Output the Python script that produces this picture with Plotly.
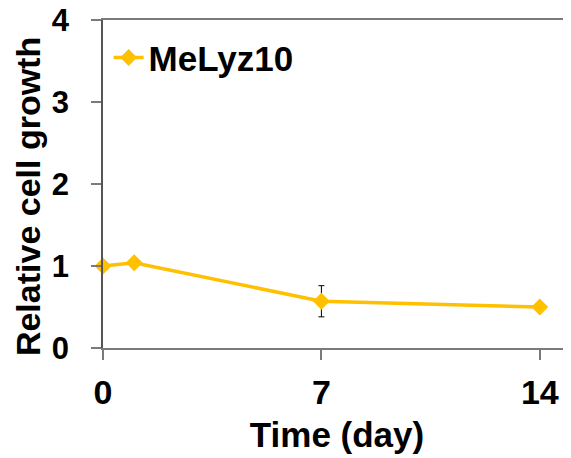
import plotly.graph_objects as go

days = [0, 1, 7, 14]
growth = [1.0, 1.04, 0.57, 0.5]
err = [0.0, 0.0, 0.19, 0.0]
series_name = "MeLyz10"
x_ticks = [0, 7, 14]
y_ticks = [0, 1, 2, 3, 4]

FONT = "Liberation Sans, Arial, sans-serif"
GOLD = "#FFC000"
AX = "#7a7a7a"

fig = go.Figure()
fig.add_trace(go.Scatter(
    x=days, y=growth, mode="lines+markers", name=series_name,
    line=dict(color=GOLD, width=3.5),
    marker=dict(symbol="diamond", size=13, color=GOLD),
    error_y=dict(type="data", array=err, visible=True, color="black", thickness=1, width=3),
    cliponaxis=False,
))

# page body has an 8px default margin, so the figure is sized/offset to land on the same pixels
fig.update_layout(
    width=563, height=450,
    margin=dict(l=95, r=0, t=12, b=110),
    plot_bgcolor="white", paper_bgcolor="white",
    font=dict(family=FONT, color="black", size=30, weight="bold"),
    showlegend=True,
    legend=dict(x=0.012, y=0.975, xanchor="left", yanchor="top",
                bgcolor="rgba(0,0,0,0)",
                font=dict(family=FONT, size=35, weight="bold")),
    xaxis=dict(range=[0, 15], tickvals=x_ticks, ticks="outside", ticklen=10,
               tickcolor=AX, tickwidth=1.5, showline=True, linecolor=AX, linewidth=1.5,
               mirror=True, showgrid=False, zeroline=False, automargin=False,
               ticklabelstandoff=3, ticklabeloverflow="allow",
               tickfont=dict(family=FONT, size=34, weight="bold"),
               title=dict(text="Time (day)", font=dict(family=FONT, size=35, weight="bold"), standoff=13)),
    yaxis=dict(range=[0, 4], tickvals=y_ticks, ticks="outside", ticklen=10,
               tickcolor=AX, tickwidth=1.5, showline=True, linecolor="#555", linewidth=1.5,
               showgrid=False, zeroline=False, ticklabelstandoff=16, automargin=False,
               ticklabeloverflow="allow",
               tickfont=dict(family=FONT, size=31, weight="bold")),
    annotations=[dict(text="Relative cell growth", xref="paper", yref="paper",
                      x=0, y=0.46, xshift=-75, xanchor="center", yanchor="middle",
                      textangle=-90, showarrow=False,
                      font=dict(family=FONT, size=34, weight="bold"))],
)

fig.write_html("out.html")
